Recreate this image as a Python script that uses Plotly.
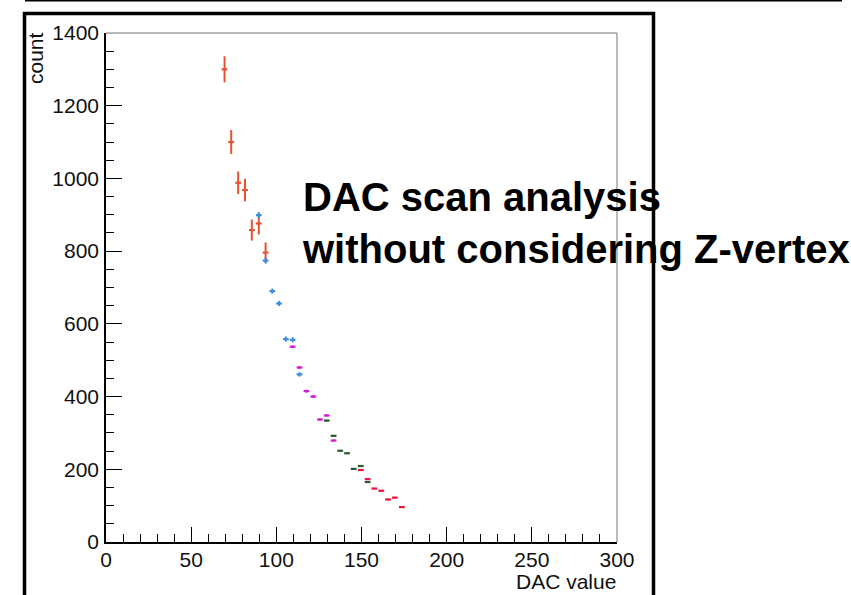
import plotly.graph_objects as go

# DAC scan points, one group per scan window
dac_1 = [69.6, 73.5, 77.6, 81.6, 85.6, 89.7, 93.7]
cnt_1 = [1300, 1100, 988, 968, 858, 876, 796]
err_1 = [36, 33, 31, 31, 29, 30, 28]

dac_2 = [89.7, 93.7, 97.6, 101.6, 105.6, 109.6, 113.6]
cnt_2 = [899, 774, 690, 656, 558, 556, 461]
err_2 = [8, 8, 7, 7, 7, 7, 6]

dac_3 = [109.6, 113.6, 117.7, 121.7, 125.6, 129.6, 133.6]
cnt_3 = [537, 480, 415, 400, 337, 348, 279]
err_3 = [4, 4, 4, 4, 3, 3, 3]

dac_4 = [129.6, 133.6, 137.5, 141.5, 145.4, 149.6, 153.6]
cnt_4 = [334, 292, 251, 244, 201, 209, 165]
err_4 = [2, 2, 2, 2, 2, 2, 2]

dac_5 = [149.6, 153.6, 157.6, 161.6, 165.6, 169.6, 173.7]
cnt_5 = [198, 173, 147, 141, 117, 122, 96]
err_5 = [2, 2, 2, 2, 2, 2, 2]

bin_half = [1.7] * 7

groups = [
    (dac_1, cnt_1, err_1, "#e5532f"),
    (dac_2, cnt_2, err_2, "#3a8ee0"),
    (dac_3, cnt_3, err_3, "#d21fd6"),
    (dac_4, cnt_4, err_4, "#2b5a2e"),
    (dac_5, cnt_5, err_5, "#e8163c"),
]

W, H = 851, 595
FONT = "Liberation Sans, Arial, Helvetica, sans-serif"

fig = go.Figure()
for xs, ys, es, col in groups:
    fig.add_trace(go.Scatter(
        x=xs, y=ys, mode="markers",
        marker=dict(size=4, color=col, opacity=0),
        error_x=dict(type="data", array=bin_half, width=0, thickness=2.2, color=col),
        error_y=dict(type="data", array=es, width=0, thickness=2, color=col),
        showlegend=False, hoverinfo="x+y",
    ))

def px(x):
    return x / W

def py(y):
    return 1 - y / H

axis_common = dict(
    showgrid=False, zeroline=False, showline=True, linecolor="black", linewidth=1.5,
    ticks="inside", tickcolor="black", tickwidth=1.3, automargin=False,
    tickfont=dict(family=FONT, size=21, color="#111"),
)

fig.update_layout(
    width=W, height=H,
    margin=dict(l=0, r=0, t=0, b=0, pad=0, autoexpand=False),
    paper_bgcolor="white", plot_bgcolor="white",
    xaxis=dict(
        domain=[px(106), px(617)], range=[0, 300], dtick=50, ticklen=15,
        minor=dict(dtick=10, ticklen=8, ticks="inside", tickcolor="black", tickwidth=1.3),
        ticklabelstandoff=-2,
        **axis_common,
    ),
    yaxis=dict(
        domain=[py(542), py(33)], range=[0, 1400], dtick=200, ticklen=16,
        minor=dict(dtick=50, ticklen=8, ticks="inside", tickcolor="black", tickwidth=1.3),
        ticklabelstandoff=1,
        **axis_common,
    ),
)

# thin box closing the pad on top and right
fig.add_shape(type="line", xref="paper", yref="paper",
              x0=px(106), x1=px(617), y0=py(33), y1=py(33),
              line=dict(color="#777", width=1))
fig.add_shape(type="line", xref="paper", yref="paper",
              x0=px(617), x1=px(617), y0=py(33), y1=py(542),
              line=dict(color="#777", width=1))

# outer canvas frame and top rule
fig.add_shape(type="rect", xref="paper", yref="paper",
              x0=px(24.5), x1=px(653.5), y0=py(13.5), y1=py(620),
              line=dict(color="black", width=3.5), fillcolor="rgba(0,0,0,0)")
fig.add_shape(type="line", xref="paper", yref="paper",
              x0=px(25), x1=px(842), y0=py(0.8), y1=py(0.8),
              line=dict(color="black", width=1.6))

# axis titles
fig.add_annotation(text="count", xref="paper", yref="paper",
                   x=px(36), y=py(58), xanchor="center", yanchor="middle",
                   textangle=-90, showarrow=False,
                   font=dict(family=FONT, size=21, color="#111"))
fig.add_annotation(text="DAC value", xref="paper", yref="paper",
                   x=px(618), y=py(581), xanchor="right", yanchor="middle",
                   showarrow=False,
                   font=dict(family=FONT, size=21, color="#111"))

fig.add_annotation(text="<b>DAC scan analysis<br>without considering Z-vertex</b>",
                   xref="paper", yref="paper",
                   x=px(300), y=py(223), xanchor="left", yanchor="middle",
                   align="left", showarrow=False,
                   font=dict(family=FONT, size=40, color="black"))

fig.write_html("out.html")
